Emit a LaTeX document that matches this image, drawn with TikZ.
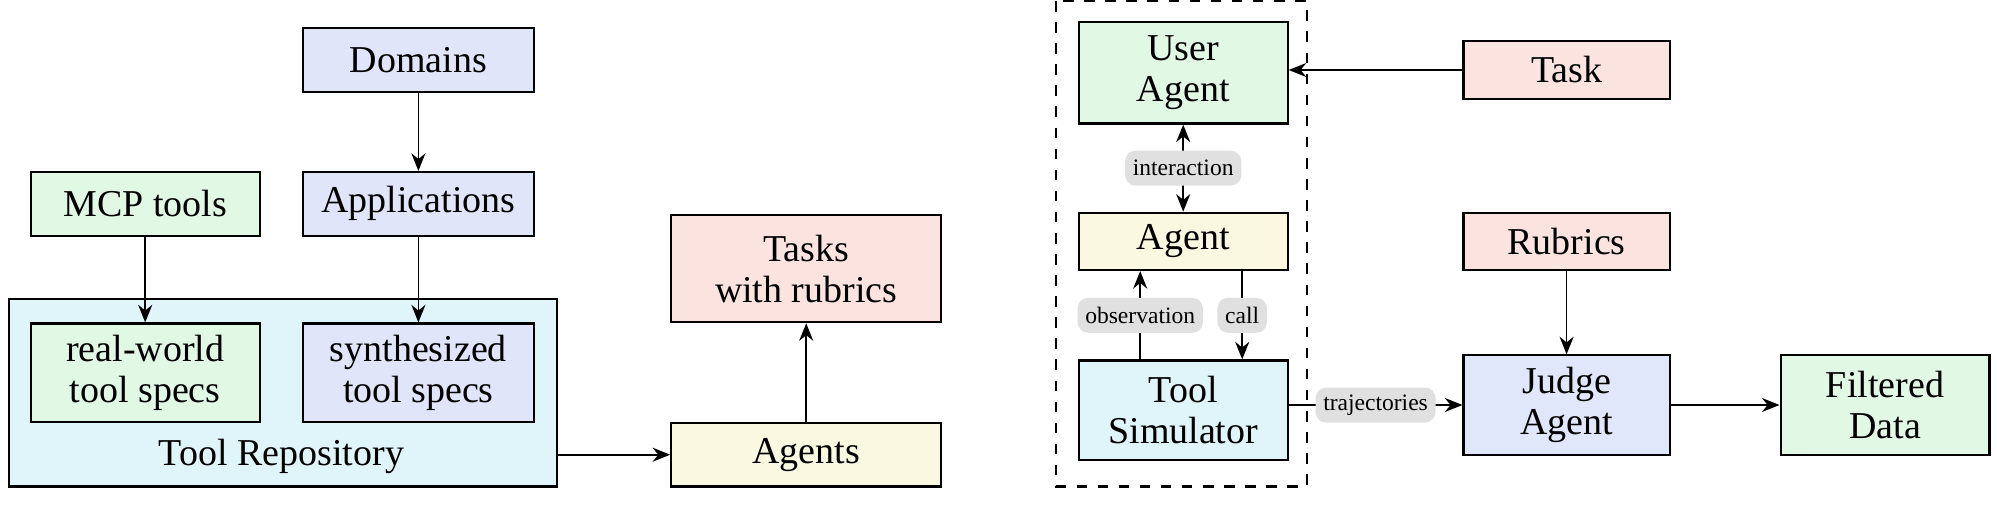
\documentclass[tikz,border=0pt]{standalone}
\usepackage{fontspec}
\setmainfont{Liberation Serif}
\usetikzlibrary{arrows.meta, positioning}
\definecolor{domlav}{HTML}{E1E5FA}
\definecolor{mintgreen}{HTML}{E0F8E4}
\definecolor{repocyan}{HTML}{E0F5FA}
\definecolor{taskpink}{HTML}{FBE3DF}
\definecolor{agentyellow}{HTML}{FAF8E1}
\definecolor{judgeblue}{HTML}{E1E7FA}
\definecolor{taggray}{HTML}{E0E0E0}

\begin{document}
\begin{tikzpicture}[
  box/.style={
    rectangle, draw=black, line width=0.6pt, inner sep=0pt,
    align=center, font=\fontsize{10.8}{11.6}\selectfont},
  tag/.style={
    rectangle, rounded corners=3pt, fill=taggray,
    inner xsep=2.2pt, inner ysep=0pt, minimum height=0.35cm,
    font=\fontsize{6.7}{8}\selectfont},
  flow/.style={-{Stealth[length=5pt, width=4pt]}, line width=0.5pt},
]
  \useasboundingbox (0,0) rectangle (19.97,-5.08);

  % Tool repository
  \node[box, fill=repocyan, minimum width=5.477cm, minimum height=1.872cm] (repo) at (2.828,-3.929) {};
  \node[font=\fontsize{10.8}{11.6}\selectfont] (repolabel) at (2.815,-4.56) {Tool Repository};

  \node[box, fill=domlav, minimum width=2.305cm, minimum height=0.637cm] (domains) at (4.184,-0.599) {Domains};
  \node[box, fill=mintgreen, minimum width=2.29cm, minimum height=0.637cm] (mcp) at (1.452,-2.038) {MCP tools};
  \node[box, fill=domlav, minimum width=2.305cm, minimum height=0.637cm] (apps) at (4.184,-2.038) {Applications};
  \node[box, fill=mintgreen, minimum width=2.29cm, minimum height=0.981cm] (realspec) at (1.452,-3.725) {real-world\\tool specs};
  \node[box, fill=domlav, minimum width=2.305cm, minimum height=0.981cm] (synspec) at (4.184,-3.725) {synthesized\\tool specs};

  \node[box, fill=taskpink, minimum width=2.70cm, minimum height=1.07cm] (tasks) at (8.062,-2.687) {Tasks\\with rubrics};
  \node[box, fill=agentyellow, minimum width=2.70cm, minimum height=0.637cm] (agents) at (8.062,-4.547) {Agents};

  \draw[flow] (domains) -- (apps);
  \draw[flow] (mcp) -- (realspec);
  \draw[flow] (apps) -- (synspec);
  \draw[flow] (repo.east |- agents) -- (agents);
  \draw[flow] (agents) -- (tasks);

  % Simulation loop
  \draw[dashed, line width=0.6pt] (10.559,-0.01) rectangle (13.068,-4.865);

  \node[box, fill=mintgreen, minimum width=2.089cm, minimum height=1.019cm] (useragent) at (11.832,-0.726) {User\\Agent};
  \node[box, fill=agentyellow, minimum width=2.089cm, minimum height=0.573cm] (agent) at (11.832,-2.414) {Agent};
  \node[box, fill=repocyan, minimum width=2.089cm, minimum height=0.993cm] (toolsim) at (11.832,-4.101) {Tool\\Simulator};

  \node[box, fill=taskpink, minimum width=2.063cm, minimum height=0.586cm] (task) at (15.666,-0.70) {Task};
  \node[box, fill=taskpink, minimum width=2.063cm, minimum height=0.573cm] (rubrics) at (15.666,-2.414) {Rubrics};
  \node[box, fill=judgeblue, minimum width=2.063cm, minimum height=0.993cm] (judge) at (15.666,-4.05) {Judge\\Agent};
  \node[box, fill=mintgreen, minimum width=2.089cm, minimum height=0.993cm] (filtered) at (18.85,-4.05) {Filtered\\Data};

  \draw[flow, {Stealth[length=5pt, width=4pt]}-{Stealth[length=5pt, width=4pt]}] (useragent) -- node[tag] {interaction} (agent);
  \draw[flow] ([xshift=-0.43cm]toolsim.north) -- node[tag] {observation} ([xshift=-0.43cm]agent.south);
  \draw[flow] ([xshift=0.59cm]agent.south) -- node[tag] {call} ([xshift=0.59cm]toolsim.north);
  \draw[flow] (task) -- (task -| useragent.east);
  \draw[flow] (rubrics) -- (judge);
  \draw[flow] (toolsim.east |- judge) -- node[tag] {trajectories} (judge);
  \draw[flow] (judge) -- (filtered);
\end{tikzpicture}
\end{document}
